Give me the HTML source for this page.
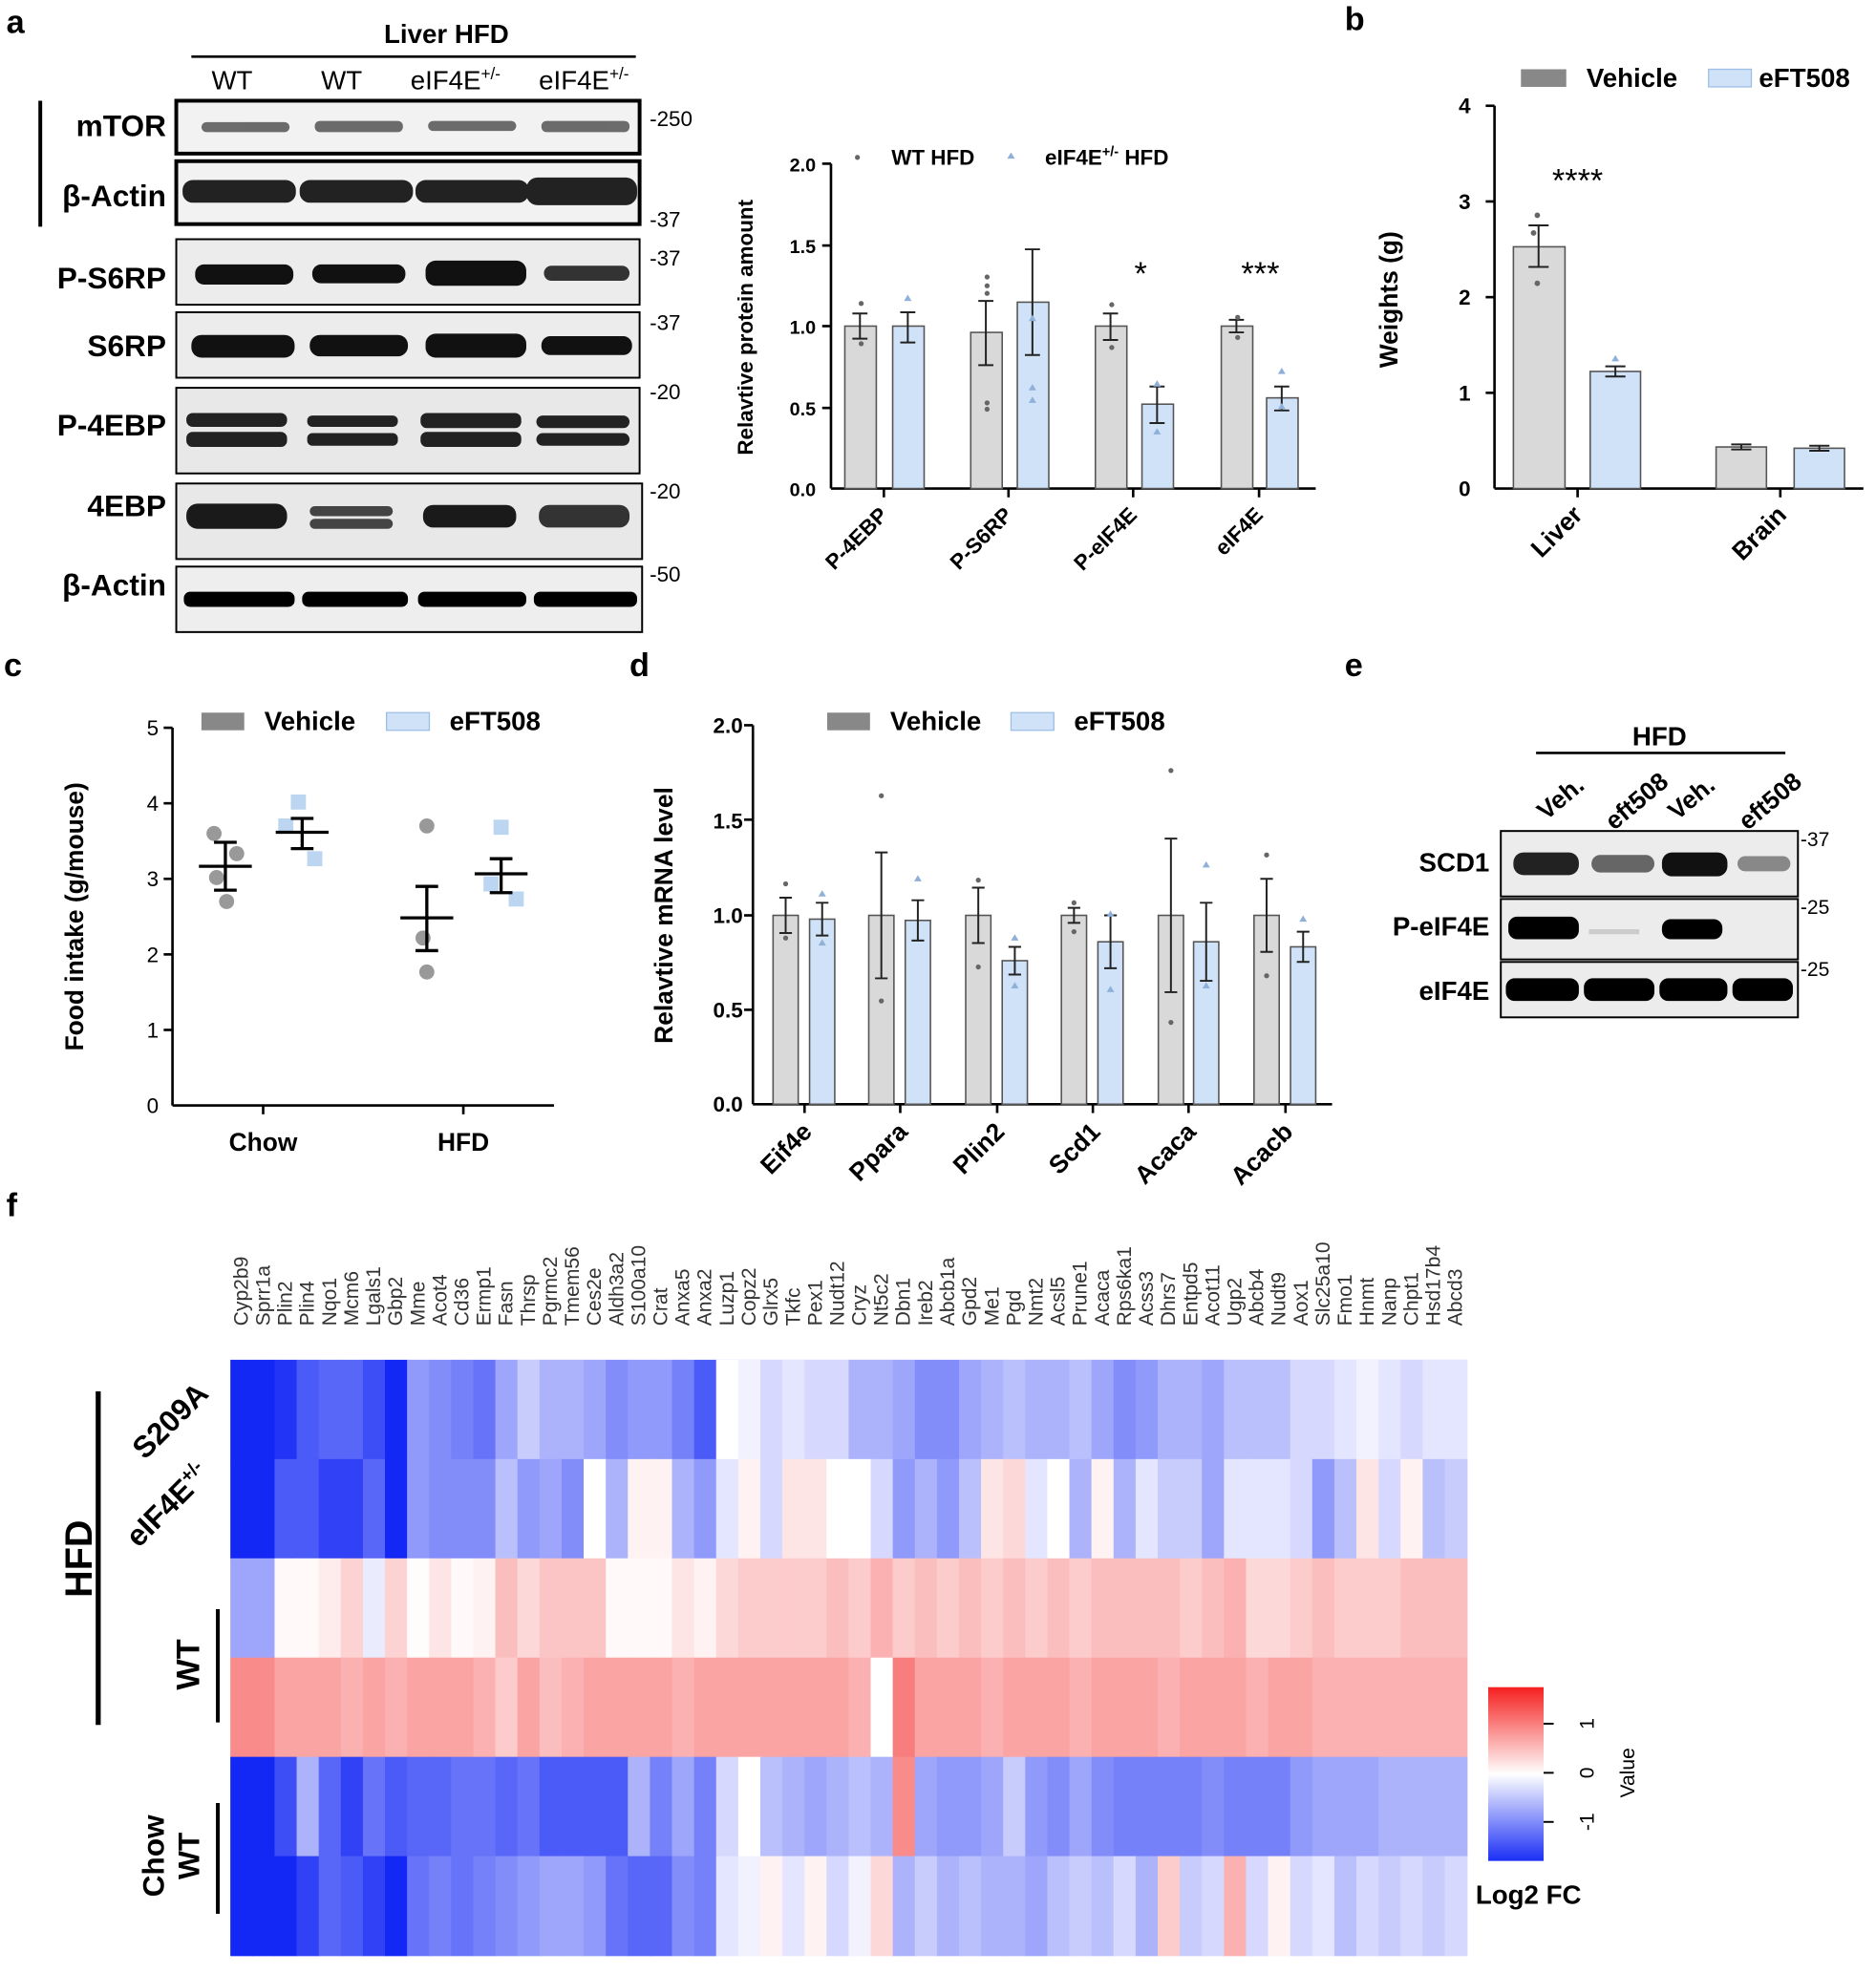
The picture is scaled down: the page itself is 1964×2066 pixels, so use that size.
<!DOCTYPE html>
<html><head><meta charset="utf-8"><style>
html,body{margin:0;padding:0;background:#fff}
svg{display:block}
text{font-family:"Liberation Sans",Arial,sans-serif}
.b{font-weight:bold}
</style></head><body>
<svg id="s" width="1964" height="2066" viewBox="0 0 1490 1567" preserveAspectRatio="none" xmlns="http://www.w3.org/2000/svg">
<rect width="1490" height="1567" fill="#fff"/>
<!-- panel letters -->
<g class="b" font-size="26" font-weight="bold">
<text x="5" y="26" font-weight="bold">a</text><text x="1068" y="24" font-weight="bold">b</text>
<text x="3" y="537" font-weight="bold">c</text><text x="500" y="537" font-weight="bold">d</text>
<text x="1068" y="537" font-weight="bold">e</text><text x="5" y="966" font-weight="bold">f</text>
</g>
<!-- Blots a -->
<text x="305" y="34" font-size="21" font-weight="bold">Liver HFD</text>
<line x1="152" y1="45" x2="505" y2="45" stroke="#000" stroke-width="2"/>
<g font-size="21"><text x="168" y="71">WT</text><text x="255" y="71">WT</text><text x="326" y="71">eIF4E<tspan font-size="13" dy="-8">+/-</tspan></text><text x="428" y="71">eIF4E<tspan font-size="13" dy="-8">+/-</tspan></text></g>
<line x1="32" y1="80" x2="32" y2="180" stroke="#000" stroke-width="3"/>
<g font-size="24" font-weight="bold" text-anchor="end">
<text x="132" y="108">mTOR</text><text x="132" y="164">β-Actin</text><text x="132" y="229">P-S6RP</text><text x="132" y="283">S6RP</text><text x="132" y="346">P-4EBP</text><text x="132" y="410">4EBP</text><text x="132" y="473">β-Actin</text>
</g>
<g font-size="17"><text x="516" y="100">-250</text><text x="516" y="180">-37</text><text x="516" y="211">-37</text><text x="516" y="262">-37</text><text x="516" y="317">-20</text><text x="516" y="396">-20</text><text x="516" y="462">-50</text></g>
<g stroke="#000" fill="#f2f2f2">
<rect x="140" y="80" width="368" height="42" stroke-width="3"/>
<rect x="140" y="128" width="368" height="50" stroke-width="3"/>
<rect x="140" y="190" width="368" height="52" stroke-width="1.5" fill="#ececec"/>
<rect x="140" y="248" width="368" height="52" stroke-width="1.5" fill="#ececec"/>
<rect x="140" y="308" width="368" height="68" stroke-width="1.5" fill="#e8e8e8"/>
<rect x="140" y="384" width="370" height="60" stroke-width="1.5" fill="#e8e8e8"/>
<rect x="140" y="450" width="370" height="52" stroke-width="1.5" fill="#eee"/>
</g>
<g fill="#333">
<g opacity="0.7"><rect x="160" y="97" width="70" height="8" rx="4"/><rect x="250" y="96" width="70" height="9" rx="4"/><rect x="340" y="96" width="70" height="8" rx="4"/><rect x="430" y="96" width="70" height="9" rx="4"/></g>
<g fill="#222"><rect x="145" y="143" width="90" height="18" rx="8"/><rect x="238" y="143" width="90" height="18" rx="8"/><rect x="330" y="143" width="90" height="18" rx="8"/><rect x="418" y="141" width="88" height="22" rx="9"/></g>
<g fill="#111"><rect x="155" y="210" width="78" height="16" rx="7"/><rect x="248" y="210" width="74" height="15" rx="7"/><rect x="338" y="207" width="80" height="20" rx="8"/><rect x="432" y="211" width="68" height="12" rx="6" fill="#333"/></g>
<g fill="#111"><rect x="152" y="266" width="82" height="18" rx="8"/><rect x="246" y="266" width="78" height="17" rx="8"/><rect x="338" y="265" width="80" height="19" rx="8"/><rect x="430" y="267" width="72" height="15" rx="7"/></g>
<g fill="#222"><rect x="148" y="328" width="80" height="11" rx="5"/><rect x="148" y="343" width="80" height="12" rx="5"/><rect x="244" y="330" width="72" height="9" rx="4"/><rect x="244" y="344" width="72" height="10" rx="4"/><rect x="334" y="328" width="80" height="12" rx="5"/><rect x="334" y="343" width="80" height="12" rx="5"/><rect x="426" y="330" width="74" height="10" rx="5"/><rect x="426" y="344" width="74" height="10" rx="5"/></g>
<g fill="#1a1a1a"><rect x="148" y="400" width="80" height="20" rx="9"/><rect x="246" y="402" width="66" height="8" rx="4" fill="#444"/><rect x="246" y="412" width="66" height="8" rx="4" fill="#444"/><rect x="336" y="401" width="74" height="18" rx="8"/><rect x="428" y="401" width="72" height="18" rx="8" fill="#333"/></g>
<g fill="#000"><rect x="146" y="470" width="88" height="12" rx="5"/><rect x="240" y="470" width="84" height="12" rx="5"/><rect x="332" y="470" width="86" height="12" rx="5"/><rect x="424" y="470" width="82" height="12" rx="5"/></g>
</g>
<!-- bar chart a -->
<g font-size="15" font-weight="bold" text-anchor="end">
<text x="648" y="136">2.0</text><text x="648" y="201">1.5</text><text x="648" y="265">1.0</text><text x="648" y="330">0.5</text><text x="648" y="394">0.0</text>
</g>
<text transform="translate(598,260) rotate(-90)" font-size="17" font-weight="bold" text-anchor="middle">Relavtive protein amount</text>
<g stroke="#000" stroke-width="2"><line x1="660" y1="130" x2="660" y2="388"/><line x1="660" y1="388" x2="1045" y2="388"/>
<line x1="653" y1="130" x2="660" y2="130"/><line x1="653" y1="195" x2="660" y2="195"/><line x1="653" y1="259" x2="660" y2="259"/><line x1="653" y1="324" x2="660" y2="324"/>
<line x1="702" y1="388" x2="702" y2="395"/><line x1="801" y1="388" x2="801" y2="395"/><line x1="900" y1="388" x2="900" y2="395"/><line x1="1000" y1="388" x2="1000" y2="395"/></g>
<g stroke="#555" stroke-width="1.2">
<rect x="671" y="259" width="25" height="129" fill="#d9d9d9"/><rect x="709" y="259" width="25" height="129" fill="#cfe2f7"/>
<rect x="771" y="264" width="25" height="124" fill="#d9d9d9"/><rect x="808" y="240" width="25" height="148" fill="#cfe2f7"/>
<rect x="870" y="259" width="25" height="129" fill="#d9d9d9"/><rect x="907" y="321" width="25" height="67" fill="#cfe2f7"/>
<rect x="970" y="259" width="25" height="129" fill="#d9d9d9"/><rect x="1006" y="316" width="25" height="72" fill="#cfe2f7"/>
</g>
<g stroke="#222" stroke-width="1.5" fill="none">
<path d="M683 249V269M677 249H689M677 269H689"/><path d="M721 248V272M715 248H727M715 272H727"/>
<path d="M783 239V290M777 239H789M777 290H789"/><path d="M820 198V282M814 198H826M814 282H826"/>
<path d="M882 249V270M876 249H888M876 270H888"/><path d="M919 307V336M913 307H925M913 336H925"/>
<path d="M982 254V264M976 254H988M976 264H988"/><path d="M1018 307V326M1012 307H1024M1012 326H1024"/>
</g>
<g fill="#666"><circle cx="684" cy="241" r="2"/><circle cx="684" cy="273" r="2"/><circle cx="784" cy="220" r="2"/><circle cx="784" cy="227" r="2"/><circle cx="784" cy="233" r="2"/><circle cx="784" cy="320" r="2"/><circle cx="784" cy="325" r="2"/><circle cx="883" cy="242" r="2"/><circle cx="883" cy="276" r="2"/><circle cx="983" cy="252" r="2"/><circle cx="983" cy="268" r="2"/></g>
<g fill="#8fb0d8"><path d="M721 234l3 5h-6z"/><path d="M820 250l3 5h-6z"/><path d="M820 305l3 5h-6z"/><path d="M820 315l3 5h-6z"/><path d="M919 302l3 5h-6z"/><path d="M919 340l3 5h-6z"/><path d="M1018 292l3 5h-6z"/><path d="M1018 320l3 5h-6z"/></g>
<g font-size="26" text-anchor="middle"><text x="906" y="226">*</text><text x="1001" y="226">***</text></g>
<circle cx="681" cy="125" r="2" fill="#666"/><text x="708" y="131" font-size="17" font-weight="bold">WT HFD</text>
<path d="M803 121l3 5h-6z" fill="#8fb0d8"/><text x="830" y="131" font-size="17" font-weight="bold">eIF4E<tspan font-size="11" dy="-7">+/-</tspan><tspan dy="7"> HFD</tspan></text>
<g font-size="17" font-weight="bold" text-anchor="end">
<text transform="translate(706,410) rotate(-45)">P-4EBP</text><text transform="translate(805,410) rotate(-45)">P-S6RP</text><text transform="translate(904,410) rotate(-45)">P-eIF4E</text><text transform="translate(1004,410) rotate(-45)">eIF4E</text></g>
<!-- panel b -->
<rect x="1208" y="55" width="36" height="14" fill="#888"/><text x="1260" y="69" font-size="21" font-weight="bold">Vehicle</text>
<rect x="1357" y="55" width="34" height="14" fill="#cfe2f7" stroke="#9fc0e6"/><text x="1397" y="69" font-size="21" font-weight="bold">eFT508</text>
<g font-size="17" font-weight="bold" text-anchor="end"><text x="1168" y="90">4</text><text x="1168" y="166">3</text><text x="1168" y="242">2</text><text x="1168" y="318">1</text><text x="1168" y="394">0</text></g>
<text transform="translate(1110,238) rotate(-90)" font-size="20" font-weight="bold" text-anchor="middle">Weights (g)</text>
<g stroke="#000" stroke-width="2"><line x1="1187" y1="84" x2="1187" y2="388"/><line x1="1187" y1="388" x2="1480" y2="388"/>
<line x1="1180" y1="84" x2="1187" y2="84"/><line x1="1180" y1="160" x2="1187" y2="160"/><line x1="1180" y1="236" x2="1187" y2="236"/><line x1="1180" y1="312" x2="1187" y2="312"/><line x1="1253" y1="388" x2="1253" y2="395"/><line x1="1414" y1="388" x2="1414" y2="395"/></g>
<g stroke="#555" stroke-width="1.2"><rect x="1202" y="196" width="41" height="192" fill="#d9d9d9"/><rect x="1263" y="295" width="40" height="93" fill="#cfe2f7"/><rect x="1363" y="355" width="40" height="33" fill="#d9d9d9"/><rect x="1425" y="356" width="40" height="32" fill="#cfe2f7"/></g>
<g stroke="#222" stroke-width="1.5" fill="none"><path d="M1222 179V212M1214 179H1230M1214 212H1230"/><path d="M1283 291V299M1275 291H1291M1275 299H1291"/><path d="M1383 353V357M1375 353H1391M1375 357H1391"/><path d="M1445 354V358M1437 354H1453M1437 358H1453"/></g>
<g fill="#666"><circle cx="1221" cy="171" r="2.2"/><circle cx="1218" cy="185" r="2.2"/><circle cx="1221" cy="225" r="2.2"/></g>
<path d="M1283 282l3 5h-6z" fill="#8fb0d8"/>
<text x="1253" y="152" font-size="26" text-anchor="middle">****</text>
<g font-size="20" font-weight="bold" text-anchor="end"><text transform="translate(1258,410) rotate(-45)">Liver</text><text transform="translate(1420,410) rotate(-45)">Brain</text></g>
<!-- panel c -->
<rect x="160" y="566" width="34" height="14" fill="#888"/><text x="210" y="580" font-size="21" font-weight="bold">Vehicle</text>
<rect x="307" y="566" width="34" height="14" fill="#cfe2f7" stroke="#9fc0e6"/><text x="357" y="580" font-size="21" font-weight="bold">eFT508</text>
<g font-size="17" text-anchor="end"><text x="126" y="584">5</text><text x="126" y="644">4</text><text x="126" y="704">3</text><text x="126" y="764">2</text><text x="126" y="824">1</text><text x="126" y="884">0</text></g>
<text transform="translate(66,728) rotate(-90)" font-size="20" font-weight="bold" text-anchor="middle">Food intake (g/mouse)</text>
<g stroke="#000" stroke-width="2"><line x1="137" y1="578" x2="137" y2="878"/><line x1="137" y1="878" x2="440" y2="878"/>
<line x1="130" y1="578" x2="137" y2="578"/><line x1="130" y1="638" x2="137" y2="638"/><line x1="130" y1="698" x2="137" y2="698"/><line x1="130" y1="758" x2="137" y2="758"/><line x1="130" y1="818" x2="137" y2="818"/><line x1="209" y1="878" x2="209" y2="885"/><line x1="368" y1="878" x2="368" y2="885"/></g>
<g fill="#999"><circle cx="170" cy="662" r="6"/><circle cx="188" cy="678" r="6"/><circle cx="172" cy="697" r="6"/><circle cx="180" cy="716" r="6"/><circle cx="339" cy="656" r="6"/><circle cx="336" cy="745" r="6"/><circle cx="339" cy="772" r="6"/></g>
<g fill="#bcd6f2"><rect x="231" y="631" width="12" height="12"/><rect x="221" y="650" width="12" height="12"/><rect x="244" y="676" width="12" height="12"/><rect x="392" y="651" width="12" height="12"/><rect x="384" y="696" width="12" height="12"/><rect x="404" y="708" width="12" height="12"/></g>
<g stroke="#000" stroke-width="2.5" fill="none"><path d="M158 688H200M179 669V707M170 669H188M170 707H188"/><path d="M219 661H261M240 650V674M231 650H249M231 674H249"/><path d="M318 729H360M339 704V755M330 704H348M330 755H348"/><path d="M377 694H419M398 682V709M389 682H407M389 709H407"/></g>
<g font-size="20" font-weight="bold" text-anchor="middle"><text x="209" y="914">Chow</text><text x="368" y="914">HFD</text></g>
<!-- panel d -->
<rect x="657" y="566" width="34" height="14" fill="#888"/><text x="707" y="580" font-size="21" font-weight="bold">Vehicle</text>
<rect x="803" y="566" width="34" height="14" fill="#cfe2f7" stroke="#9fc0e6"/><text x="853" y="580" font-size="21" font-weight="bold">eFT508</text>
<g font-size="17" font-weight="bold" text-anchor="end"><text x="590" y="582">2.0</text><text x="590" y="658">1.5</text><text x="590" y="733">1.0</text><text x="590" y="808">0.5</text><text x="590" y="883">0.0</text></g>
<text transform="translate(534,727) rotate(-90)" font-size="20" font-weight="bold" text-anchor="middle">Relavtive mRNA level</text>
<g stroke="#000" stroke-width="2"><line x1="598" y1="576" x2="598" y2="877"/><line x1="598" y1="877" x2="1058" y2="877"/>
<line x1="591" y1="576" x2="598" y2="576"/><line x1="591" y1="651" x2="598" y2="651"/><line x1="591" y1="727" x2="598" y2="727"/><line x1="591" y1="802" x2="598" y2="802"/>
<line x1="639" y1="877" x2="639" y2="884"/><line x1="715" y1="877" x2="715" y2="884"/><line x1="792" y1="877" x2="792" y2="884"/><line x1="868" y1="877" x2="868" y2="884"/><line x1="944" y1="877" x2="944" y2="884"/><line x1="1021" y1="877" x2="1021" y2="884"/></g>
<g stroke="#555" stroke-width="1.2">
<rect x="614" y="727" width="20" height="150" fill="#d9d9d9"/><rect x="643" y="730" width="20" height="147" fill="#cfe2f7"/>
<rect x="690" y="727" width="20" height="150" fill="#d9d9d9"/><rect x="719" y="731" width="20" height="146" fill="#cfe2f7"/>
<rect x="767" y="727" width="20" height="150" fill="#d9d9d9"/><rect x="796" y="763" width="20" height="114" fill="#cfe2f7"/>
<rect x="843" y="727" width="20" height="150" fill="#d9d9d9"/><rect x="872" y="748" width="20" height="129" fill="#cfe2f7"/>
<rect x="920" y="727" width="20" height="150" fill="#d9d9d9"/><rect x="948" y="748" width="20" height="129" fill="#cfe2f7"/>
<rect x="996" y="727" width="20" height="150" fill="#d9d9d9"/><rect x="1025" y="752" width="20" height="125" fill="#cfe2f7"/>
</g>
<g stroke="#222" stroke-width="1.5" fill="none">
<path d="M624 713V741M619 713H629M619 741H629"/><path d="M653 717V743M648 717H658M648 743H658"/>
<path d="M700 677V777M695 677H705M695 777H705"/><path d="M729 715V747M724 715H734M724 747H734"/>
<path d="M777 705V749M772 705H782M772 749H782"/><path d="M806 752V774M801 752H811M801 774H811"/>
<path d="M853 721V733M848 721H858M848 733H858"/><path d="M882 727V769M877 727H887M877 769H887"/>
<path d="M930 666V788M925 666H935M925 788H935"/><path d="M958 717V779M953 717H963M953 779H963"/>
<path d="M1006 698V756M1001 698H1011M1001 756H1011"/><path d="M1035 740V764M1030 740H1040M1030 764H1040"/>
</g>
<g fill="#666"><circle cx="624" cy="702" r="2"/><circle cx="624" cy="745" r="2"/><circle cx="700" cy="632" r="2"/><circle cx="700" cy="795" r="2"/><circle cx="777" cy="699" r="2"/><circle cx="777" cy="768" r="2"/><circle cx="853" cy="717" r="2"/><circle cx="853" cy="740" r="2"/><circle cx="930" cy="612" r="2"/><circle cx="930" cy="812" r="2"/><circle cx="1006" cy="679" r="2"/><circle cx="1006" cy="775" r="2"/></g>
<g fill="#8fb0d8"><path d="M653 707l3 5h-6z"/><path d="M653 746l3 5h-6z"/><path d="M729 695l3 5h-6z"/><path d="M806 742l3 5h-6z"/><path d="M806 780l3 5h-6z"/><path d="M882 723l3 5h-6z"/><path d="M882 783l3 5h-6z"/><path d="M958 684l3 5h-6z"/><path d="M958 780l3 5h-6z"/><path d="M1035 727l3 5h-6z"/></g>
<g font-size="20" font-weight="bold" text-anchor="end"><text transform="translate(646,900) rotate(-45)">Eif4e</text><text transform="translate(722,900) rotate(-45)">Ppara</text><text transform="translate(799,900) rotate(-45)">Plin2</text><text transform="translate(875,900) rotate(-45)">Scd1</text><text transform="translate(951,900) rotate(-45)">Acaca</text><text transform="translate(1028,900) rotate(-45)">Acacb</text></g>
<!-- panel e -->
<text x="1318" y="592" font-size="21" font-weight="bold" text-anchor="middle">HFD</text>
<line x1="1220" y1="598" x2="1418" y2="598" stroke="#000" stroke-width="2"/>
<g font-size="20" font-weight="bold"><text transform="translate(1228,652) rotate(-40)">Veh.</text><text transform="translate(1282,660) rotate(-40)">eft508</text><text transform="translate(1332,652) rotate(-40)">Veh.</text><text transform="translate(1388,660) rotate(-40)">eft508</text></g>
<g font-size="21" font-weight="bold" text-anchor="end"><text x="1183" y="692">SCD1</text><text x="1183" y="743">P-eIF4E</text><text x="1183" y="794">eIF4E</text></g>
<g font-size="16"><text x="1430" y="672">-37</text><text x="1430" y="726">-25</text><text x="1430" y="775">-25</text></g>
<g stroke="#000" stroke-width="1.5" fill="#ececec"><rect x="1192" y="660" width="236" height="52"/><rect x="1192" y="714" width="236" height="48"/><rect x="1192" y="764" width="236" height="44"/></g>
<g fill="#222"><rect x="1202" y="677" width="52" height="18" rx="8"/><rect x="1264" y="679" width="50" height="14" rx="7" fill="#666"/><rect x="1320" y="677" width="52" height="19" rx="8" fill="#111"/><rect x="1380" y="680" width="42" height="12" rx="6" fill="#888"/>
<rect x="1198" y="728" width="56" height="18" rx="7" fill="#000"/><rect x="1320" y="730" width="48" height="16" rx="7" fill="#000"/><rect x="1262" y="738" width="40" height="4" fill="#ccc"/>
<rect x="1196" y="777" width="58" height="18" rx="7" fill="#000"/><rect x="1258" y="777" width="56" height="18" rx="7" fill="#000"/><rect x="1318" y="777" width="54" height="18" rx="7" fill="#000"/><rect x="1376" y="777" width="48" height="18" rx="7" fill="#000"/></g>
<!-- panel f -->
<g id="hm"><rect x="183" y="1080" width="982" height="158" fill="#7d86f0"/><rect x="183" y="1238" width="982" height="158" fill="#f4b0ae"/><rect x="183" y="1396" width="982" height="157" fill="#5a62ef"/></g>
<g id="gl" font-size="16" fill="#333"></g>
<g font-size="24" font-weight="bold"><text transform="translate(115,1160) rotate(-45)">S209A</text><text transform="translate(110,1230) rotate(-45)">eIF4E<tspan font-size="15" dy="-9">+/-</tspan></text></g>
<text transform="translate(73,1238) rotate(-90)" font-size="30" font-weight="bold" text-anchor="middle">HFD</text>
<line x1="78" y1="1105" x2="78" y2="1370" stroke="#000" stroke-width="4"/>
<text transform="translate(158,1322) rotate(-90)" font-size="26" font-weight="bold" text-anchor="middle">WT</text>
<line x1="173" y1="1278" x2="173" y2="1368" stroke="#000" stroke-width="3"/>
<text transform="translate(130,1474) rotate(-90)" font-size="24" font-weight="bold" text-anchor="middle">Chow</text>
<text transform="translate(158,1474) rotate(-90)" font-size="24" font-weight="bold" text-anchor="middle">WT</text>
<line x1="173" y1="1432" x2="173" y2="1520" stroke="#000" stroke-width="3"/>
<defs><linearGradient id="cb" x1="0" y1="1" x2="0" y2="0"><stop offset="0" stop-color="#1a2ef5"/><stop offset="0.5" stop-color="#fff"/><stop offset="1" stop-color="#f5201f"/></linearGradient></defs>
<rect x="1182" y="1340" width="44" height="138" fill="url(#cb)"/>
<g stroke="#000" stroke-width="1.5"><line x1="1226" y1="1369" x2="1234" y2="1369"/><line x1="1226" y1="1408" x2="1234" y2="1408"/><line x1="1226" y1="1447" x2="1234" y2="1447"/></g>
<g font-size="16" text-anchor="middle"><text transform="translate(1266,1369) rotate(-90)">1</text><text transform="translate(1266,1408) rotate(-90)">0</text><text transform="translate(1266,1447) rotate(-90)">-1</text><text transform="translate(1298,1408) rotate(-90)">Value</text></g>
<text x="1172" y="1512" font-size="21" font-weight="bold">Log2 FC</text>
</svg>
<script>
(function(){
var N="http://www.w3.org/2000/svg";
var genes="Cyp2b9 Sprr1a Plin2 Plin4 Nqo1 Mcm6 Lgals1 Gbp2 Mme Acot4 Cd36 Ermp1 Fasn Thrsp Pgrmc2 Tmem56 Ces2e Aldh3a2 S100a10 Crat Anxa5 Anxa2 Luzp1 Copz2 Glrx5 Tkfc Pex1 Nudt12 Cryz Nt5c2 Dbn1 Ireb2 Abcb1a Gpd2 Me1 Pgd Nmt2 Acsl5 Prune1 Acaca Rps6ka1 Acss3 Dhrs7 Entpd5 Acot11 Ugp2 Abcb4 Nudt9 Aox1 Slc25a10 Fmo1 Hnmt Nanp Chpt1 Hsd17b4 Abcd3".split(" ");
var R=[
[-2,-2,-1.6,-1.3,-1.2,-1.2,-1.4,-1.8,-0.8,-0.9,-1,-1.1,-0.7,-0.4,-0.6,-0.6,-0.7,-0.9,-0.8,-0.8,-1,-1.3,0,-0.1,-0.3,-0.2,-0.3,-0.3,-0.6,-0.6,-0.7,-0.9,-0.9,-0.7,-0.6,-0.5,-0.6,-0.6,-0.5,-0.7,-0.9,-0.8,-0.6,-0.6,-0.7,-0.5,-0.5,-0.5,-0.3,-0.3,-0.2,-0.1,-0.2,-0.3,-0.2,-0.2],
[-2,-2,-1.3,-1.3,-1.5,-1.5,-1.2,-1.8,-0.8,-0.9,-0.9,-0.9,-0.5,-0.8,-0.7,-0.9,0,-0.6,0.1,0.1,-0.6,-0.8,-0.2,0.1,-0.3,0.2,0.2,0,0,-0.3,-0.8,-0.6,-0.8,-0.5,0.2,0.3,-0.2,0,-0.6,0.1,-0.6,-0.2,-0.4,-0.4,-0.7,-0.2,-0.2,-0.2,-0.3,-0.8,-0.5,0.2,-0.3,0.1,-0.5,-0.4],
[-0.7,-0.7,0.05,0.05,0.15,0.35,-0.15,0.35,0.02,0.2,0.05,0.1,0.5,0.3,0.45,0.45,0.45,0.05,0.05,0.05,0.2,0.1,0.3,0.4,0.4,0.4,0.4,0.5,0.4,0.6,0.4,0.5,0.4,0.5,0.4,0.5,0.4,0.5,0.4,0.5,0.5,0.5,0.5,0.4,0.5,0.6,0.3,0.3,0.4,0.5,0.4,0.4,0.4,0.5,0.5,0.5],
[0.9,0.9,0.7,0.7,0.7,0.6,0.7,0.6,0.7,0.7,0.7,0.6,0.4,0.7,0.5,0.6,0.7,0.7,0.7,0.7,0.6,0.7,0.7,0.7,0.7,0.7,0.7,0.7,0.6,0,1,0.7,0.7,0.7,0.6,0.7,0.7,0.7,0.6,0.7,0.7,0.7,0.6,0.7,0.7,0.7,0.6,0.7,0.7,0.6,0.6,0.6,0.6,0.6,0.6,0.6],
[-1.8,-1.8,-1.4,-0.6,-1.2,-1.5,-1.1,-1.3,-1.2,-1.2,-1.1,-1.1,-1.2,-1.1,-1.3,-1.3,-1.3,-1.3,-0.6,-1,-0.7,-1,-0.3,0,-0.5,-0.6,-0.7,-0.6,-0.5,-0.6,0.9,-0.7,-0.8,-0.8,-0.7,-0.4,-0.8,-0.9,-0.7,-0.9,-1,-1,-1,-1,-0.9,-1,-1,-1,-0.8,-0.7,-0.7,-0.7,-0.6,-0.6,-0.6,-0.6],
[-1.9,-1.9,-1.9,-1.5,-1.2,-1.3,-1.5,-1.8,-1.1,-1,-1.1,-1,-0.9,-0.8,-0.7,-0.7,-0.8,-1.1,-1.2,-1.2,-0.9,-1,-0.2,-0.1,0.1,-0.2,0.1,-0.3,-0.1,0.3,-0.6,-0.4,-0.6,-0.5,-0.6,-0.6,-0.7,-0.5,-0.4,-0.5,-0.3,-0.6,0.4,-0.4,-0.3,0.6,-0.3,0.1,-0.3,-0.2,-0.5,-0.3,-0.4,-0.3,-0.4,-0.3]];
function col(v){var t=Math.min(1,Math.abs(v)/1.7);var r,g,b;
if(v<0){r=255-t*(255-20);g=255-t*(255-40);b=255-t*10;}else{r=255-t*12;g=255-t*(255-35);b=255-t*(255-35);}
return "rgb("+Math.round(r)+","+Math.round(g)+","+Math.round(b)+")";}
var hm=document.getElementById("hm"),gl=document.getElementById("gl");
var x0=183,w=982/56,y0=1080,h=(1553-1080)/6;
for(var i=0;i<6;i++)for(var j=0;j<56;j++){var r=document.createElementNS(N,"rect");
r.setAttribute("x",(x0+j*w).toFixed(2));r.setAttribute("y",(y0+i*h).toFixed(2));r.setAttribute("width",(w+0.6).toFixed(2));r.setAttribute("height",(h+0.6).toFixed(2));r.setAttribute("fill",col(R[i][j]));hm.appendChild(r);}
for(var j=0;j<56;j++){var t=document.createElementNS(N,"text");var cx=x0+j*w+w/2+5;
t.setAttribute("transform","translate("+cx.toFixed(1)+",1053) rotate(-90)");t.textContent=genes[j];gl.appendChild(t);}
})();
</script>
</body></html>
